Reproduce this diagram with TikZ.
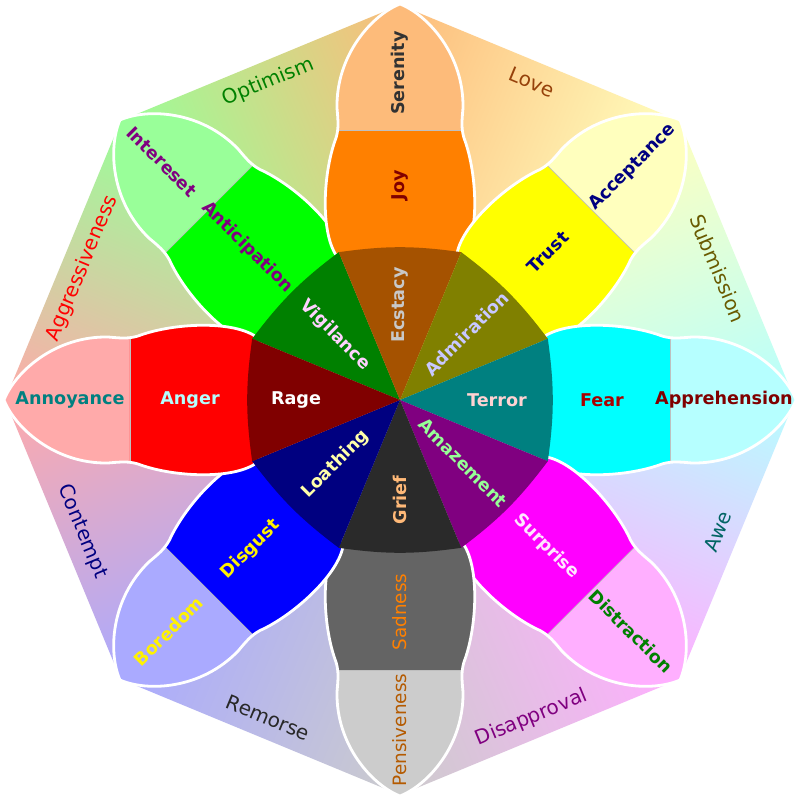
\documentclass[tikz,border=0pt]{standalone}
\usepackage{fontspec}
\setmainfont{DejaVu Sans}
\usepackage{tikz}
\usetikzlibrary{positioning}
% petal colours: inner (basic), outer (mild), deep (intense)
\definecolor{joyI}{RGB}{255,128,0}   \definecolor{joyO}{RGB}{253,187,122} \definecolor{joyD}{RGB}{165,82,0}
\definecolor{truI}{RGB}{255,255,0}   \definecolor{truO}{RGB}{255,255,190} \definecolor{truD}{RGB}{128,128,0}
\definecolor{feaI}{RGB}{0,255,255}   \definecolor{feaO}{RGB}{182,255,255} \definecolor{feaD}{RGB}{0,128,128}
\definecolor{surI}{RGB}{255,0,255}   \definecolor{surO}{RGB}{255,175,255} \definecolor{surD}{RGB}{128,0,128}
\definecolor{sadI}{RGB}{100,100,100} \definecolor{sadO}{RGB}{204,204,204} \definecolor{sadD}{RGB}{42,42,42}
\definecolor{disI}{RGB}{0,0,255}     \definecolor{disO}{RGB}{170,170,255} \definecolor{disD}{RGB}{0,0,128}
\definecolor{angI}{RGB}{255,0,0}     \definecolor{angO}{RGB}{255,170,170} \definecolor{angD}{RGB}{128,0,0}
\definecolor{antI}{RGB}{0,255,0}     \definecolor{antO}{RGB}{153,255,153} \definecolor{antD}{RGB}{0,128,0}
% text colours
\definecolor{tGray}{RGB}{50,50,50}   \definecolor{tMaroon}{RGB}{128,0,0}  \definecolor{tSilver}{RGB}{200,200,200}
\definecolor{tNavy}{RGB}{0,0,128}    \definecolor{tLav}{RGB}{200,200,255} \definecolor{tRed}{RGB}{170,0,0}
\definecolor{tRose}{RGB}{255,210,210}\definecolor{tGreen}{RGB}{0,128,0}   \definecolor{tPink}{RGB}{255,230,255}
\definecolor{tMint}{RGB}{150,255,150}\definecolor{tBrown}{RGB}{180,90,0}  \definecolor{tPeach}{RGB}{255,185,120}
\definecolor{tLemon}{RGB}{255,255,170}\definecolor{tTeal}{RGB}{0,128,128} \definecolor{tIce}{RGB}{180,255,255}
\definecolor{tPurple}{RGB}{128,0,128}\definecolor{tOrchid}{RGB}{255,210,255}\definecolor{tLove}{RGB}{150,65,10}
\definecolor{tOlive}{RGB}{105,90,0}  \definecolor{tSea}{RGB}{0,100,100}   \definecolor{tDark}{RGB}{40,40,40}
% one petal pointing along +x, units are pixels
\newcommand{\petalpath}{(140,0) -- (140,-60)
  .. controls (160,-80) and (225,-78) .. (262,-64)
  .. controls (272,-61) and (280,-62) .. (292,-63)
  .. controls (345,-64) and (385,-28) .. (396,0)
  .. controls (385,28) and (345,64) .. (292,63)
  .. controls (280,62) and (272,61) .. (262,64)
  .. controls (225,78) and (160,80) .. (140,60) -- cycle}
\begin{document}
\begin{tikzpicture}[
  x=0.5pt, y=0.5pt,
  lab/.style={font=\bfseries\fontsize{8.8}{10}\selectfont, inner sep=0pt},
  thin lab/.style={font=\fontsize{9.2}{10}\selectfont, inner sep=0pt},
  mix/.style={font=\fontsize{10}{12}\selectfont, inner sep=0pt},
  rim/.style={draw=white, line width=1.4pt}
]
\useasboundingbox (-400,-400) rectangle (400,400);
\fill[white] (-400,-400) rectangle (400,400);
% ---- dyad wedges (octagon), gradient runs from one petal to the next ----
\foreach \a/\cl/\cr in {135/antO/joyO, 90/joyO/truO, 45/truO/feaO, 0/feaO/surO,
                        -45/surO/sadO, -90/sadO/disO, -135/disO/angO, 180/angO/antO}{
  \pgfmathsetmacro{\sa}{\a-112.5}
  \begin{scope}[transform canvas={rotate=\sa}]
    \shade[left color=\cl, right color=\cr] (0,0) -- (112.5:395) -- (67.5:395) -- cycle;
  \end{scope}
}
% ---- petals ----
\foreach \a/\ci/\co in {135/antI/antO, 90/joyI/joyO, 45/truI/truO, 0/feaI/feaO,
                        -45/surI/surO, -90/sadI/sadO, -135/disI/disO, 180/angI/angO}{
  \begin{scope}[rotate=\a]
    \fill[\co] \petalpath;
    \begin{scope}
      \clip (100,-100) rectangle (270,100);
      \fill[\ci] \petalpath;
    \end{scope}
    \draw[black!25, line width=0.3pt] (270,-62) -- (270,62);
    \draw[rim] \petalpath;
  \end{scope}
}
% ---- intense core ----
\foreach \a/\cd in {135/antD, 90/joyD, 45/truD, 0/feaD, -45/surD, -90/sadD, -135/disD, 180/angD}{
  \fill[\cd] (0,0) -- ({\a-22.5}:160) to[bend right=8] ({\a+22.5}:160) -- cycle;
}
% ---- joy ----
\node[lab, tGray,   rotate=90] (serenity) at (90:327) {Serenity};
\node[lab, tMaroon, rotate=90] (joy)      at (90:215) {Joy};
\node[lab, tSilver, rotate=90] (ecstacy)  at (90:95)  {Ecstacy};
% ---- trust ----
\node[lab, tNavy, rotate=45] (acceptance) at (45:329) {Acceptance};
\node[lab, tNavy, rotate=45] (trust)      at (45:209) {Trust};
\node[lab, tLav,  rotate=45] (admiration) at (45:94)  {Admiration};
% ---- fear ----
\node[lab, tMaroon] (apprehension) at (0:324) {Apprehension};
\node[lab, tRed]    (fear)         at (0:202) {Fear};
\node[lab, tRose]   (terror)       at (0:97)  {Terror};
% ---- surprise ----
\node[lab, tGreen, rotate=-45] (distraction) at (-45:327) {Distraction};
\node[lab, tPink,  rotate=-45] (surprise)    at (-45:207) {Surprise};
\node[lab, tMint,  rotate=-45] (amazement)   at (-45:89)  {Amazement};
% ---- sadness ----
\node[thin lab, tBrown, rotate=90] (pensiveness) at (-90:330) {Pensiveness};
\node[thin lab, joyI,   rotate=90] (sadness)     at (-90:212) {Sadness};
\node[lab,      tPeach, rotate=90] (grief)       at (-90:100) {Grief};
% ---- disgust ----
\node[lab, yellow, rotate=45] (boredom)  at (-135:327) {Boredom};
\node[lab, yellow, rotate=45] (disgust)  at (-135:211) {Disgust};
\node[lab, tLemon, rotate=45] (loathing) at (-135:91)  {Loathing};
% ---- anger ----
\node[lab, tTeal] (annoyance) at (180:330) {Annoyance};
\node[lab, tIce]  (anger)     at (180:210) {Anger};
\node[lab, white] (rage)      at (180:104) {Rage};
% ---- anticipation ----
\node[lab, tPurple, rotate=-45] (interest)     at (135:337) {Intereset};
\node[lab, tPurple, rotate=-45] (anticipation) at (135:216) {Anticipation};
\node[lab, tOrchid, rotate=-45] (vigilance)    at (135:92)  {Vigilance};
% ---- dyads ----
\node[mix, tGreen,  rotate=22.5]  (optimism)       at (112.5:344)  {Optimism};
\node[mix, tLove,   rotate=-22.5] (love)           at (67.5:344)   {Love};
\node[mix, tOlive,  rotate=-67.5] (submission)     at (22.5:344)   {Submission};
\node[mix, tSea,    rotate=67.5]  (awe)            at (-22.5:344)  {Awe};
\node[mix, tPurple, rotate=22.5]  (disapproval)    at (-67.5:344)  {Disapproval};
\node[mix, tDark,   rotate=-22.5] (remorse)        at (-112.5:344) {Remorse};
\node[mix, tNavy,   rotate=-67.5] (contempt)       at (-157.5:344) {Contempt};
\node[mix, red,     rotate=67.5]  (aggressiveness) at (157.5:344)  {Aggressiveness};
\end{tikzpicture}
\end{document}
